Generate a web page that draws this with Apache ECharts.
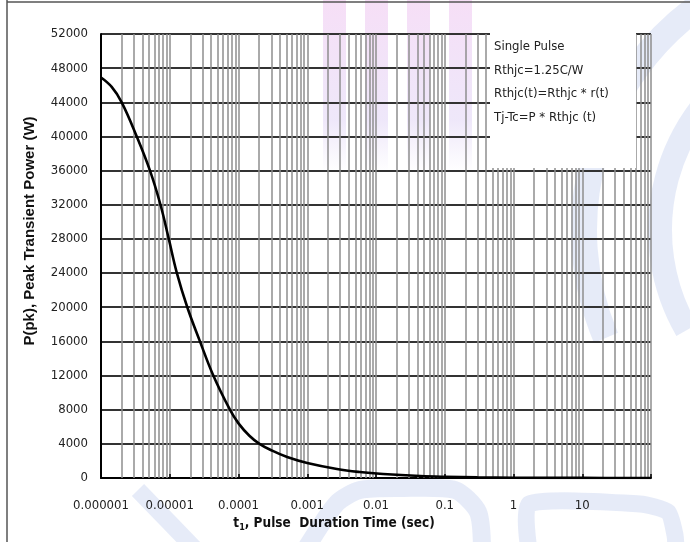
<!DOCTYPE html>
<html>
<head>
<meta charset="utf-8">
<script src="https://cdn.jsdelivr.net/npm/echarts@6/dist/echarts.min.js"></script>
<style>
  html, body { margin: 0; padding: 0; background: #fff; }
  #chart { width: 690px; height: 542px; }
</style>
</head>
<body>
<div id="chart"></div>
<script>
// pulse duration (sec) vs peak transient power (W)
const pulseTime = [1e-6, 1.43e-6, 2e-6, 3.31e-6, 5.16e-6, 7.33e-6, 9.68e-6, 1.27e-5, 1.8e-5, 2.75e-5,
    4.3e-5, 7.5e-5, 1e-4, 1.44e-4, 2.02e-4, 3e-4, 5.1e-4, 1e-3, 2.7e-3,
    5.8e-3, 1.27e-2, 4.4e-2, 0.1, 0.3, 1, 10, 100];
const peakPower = [46900, 45800, 44000, 40000, 36000, 32000, 28000, 24000, 20000, 16000,
    12000, 8000, 6400, 4950, 4000, 3250, 2450, 1750, 1050,
    700, 470, 230, 140, 70, 35, 10, 3];

const xTickLabels = ['0.000001', '0.00001', '0.0001', '0.001', '0.01', '0.1', '1', '10', ''];
const yMin = 0, yMax = 52000, yStep = 4000;
const noteLines = ['Single Pulse', 'Rthjc=1.25C/W', 'Rthjc(t)=Rthjc * r(t)', 'Tj-Tc=P * Rthjc (t)'];

const narrow = "'Liberation Sans Narrow', 'Arial Narrow', 'DejaVu Sans Condensed', sans-serif";

// log minor grid at 2..9 of every decade
const minorX = [];
for (let e = -6; e < 2; e++) {
    for (let k = 2; k <= 9; k++) {
        minorX.push(Number((k * Math.pow(10, e)).toPrecision(3)));
    }
}

const chart = echarts.init(document.getElementById('chart'));

const wm = 'rgba(178,194,234,0.32)';
const graphic = [
    // page frame
    { type: 'line', shape: { x1: 7, y1: 0, x2: 7, y2: 542 }, style: { stroke: '#555', lineWidth: 1.5 }, z: 1 },
    { type: 'line', shape: { x1: 7, y1: 2, x2: 690, y2: 2 }, style: { stroke: '#555', lineWidth: 1.5 }, z: 1 },
    // watermark
    { type: 'arc', shape: { cx: 860, cy: 230, r: 276, startAngle: 157 * Math.PI / 180, endAngle: 235 * Math.PI / 180 },
      style: { stroke: wm, lineWidth: 26, fill: null }, z: 0 },
    { type: 'arc', shape: { cx: 860, cy: 230, r: 200, startAngle: 150 * Math.PI / 180, endAngle: 240 * Math.PI / 180 },
      style: { stroke: wm, lineWidth: 24, fill: null }, z: 0 },
    { type: 'line', shape: { x1: 138, y1: 490, x2: 196, y2: 550 }, style: { stroke: wm, lineWidth: 17 }, z: 0 },
    { type: 'polyline', shape: { points: [[305, 550], [337, 503], [360, 490], [400, 488], [455, 490], [478, 512], [482, 550]], smooth: 0.25 },
      style: { stroke: wm, lineWidth: 18, fill: null }, z: 0 },
    { type: 'polyline', shape: { points: [[529, 550], [529, 504], [640, 504], [668, 512], [675, 535], [676, 550]], smooth: 0.2 },
      style: { stroke: wm, lineWidth: 17, fill: null }, z: 0 }
];
[323, 365, 407, 449].forEach(x => {
    graphic.push({
        type: 'rect', shape: { x: x, y: 0, width: 23, height: 172 }, z: 0,
        style: {
            fill: new echarts.graphic.LinearGradient(0, 0, 0, 1, [
                { offset: 0, color: 'rgba(238,190,238,0.5)' },
                { offset: 0.7, color: 'rgba(214,196,242,0.4)' },
                { offset: 1, color: 'rgba(214,200,242,0)' }
            ])
        }
    });
});
// note box over the upper right of the plot
graphic.push({ type: 'rect', shape: { x: 490, y: 31, width: 146, height: 137 }, style: { fill: '#fff' }, z: 50 });
noteLines.forEach((t, i) => {
    graphic.push({
        type: 'text', x: 494, y: 47 + i * 23.5, z: 51,
        style: { text: t, fill: '#222', font: "13px " + narrow, textVerticalAlign: 'middle' }
    });
});

chart.setOption({
    animation: false,
    backgroundColor: '#fff',
    grid: { left: 101, right: 39, top: 34, bottom: 64 },
    graphic: graphic,
    xAxis: {
        type: 'log',
        logBase: 10,
        min: 1e-6,
        max: 100,
        name: '{a|t}{s|1}{a|, Pulse  Duration Time (sec)}',
        nameLocation: 'middle',
        nameGap: 36,
        nameTextStyle: {
            padding: [0, 84, 0, 0],
            rich: {
                a: { fontFamily: narrow, fontWeight: 'bold', fontSize: 13.5, color: '#111' },
                s: { fontFamily: narrow, fontWeight: 'bold', fontSize: 9, color: '#111', padding: [7, 0, 0, 0] }
            }
        },
        axisLine: { lineStyle: { color: '#000', width: 2 } },
        axisTick: { show: true, inside: true, length: 4, lineStyle: { color: '#000', width: 1.5 } },
        axisLabel: {
            margin: 21,
            fontFamily: narrow,
            fontSize: 13,
            color: '#222',
            formatter: v => xTickLabels[Math.round(Math.log10(v)) + 6] || ''
        },
        splitLine: { show: true, lineStyle: { color: '#8e8e8e', width: 1.5 } }
    },
    yAxis: {
        type: 'value',
        min: yMin,
        max: yMax,
        interval: yStep,
        name: 'P(pk), Peak Transient Power (W)',
        nameLocation: 'middle',
        nameGap: 64,
        nameTextStyle: {
            fontFamily: "'Liberation Sans', Arial, sans-serif",
            fontWeight: 'bold',
            fontSize: 15,
            color: '#111',
            padding: [0, 0, 0, 50]
        },
        axisLine: { show: true, lineStyle: { color: '#000', width: 2 } },
        axisTick: { show: false },
        axisLabel: {
            margin: 13,
            fontFamily: narrow,
            fontSize: 13,
            color: '#222',
            formatter: v => String(v)
        },
        splitLine: { show: true, lineStyle: { color: '#333', width: 2 } }
    },
    series: [
        {
            name: 'grid',
            type: 'line',
            data: [],
            silent: true,
            z: 1,
            markLine: {
                silent: true,
                precision: 12,
                symbol: ['none', 'none'],
                label: { show: false },
                lineStyle: { type: 'solid', color: '#8e8e8e', width: 1.5 },
                data: minorX.map(v => ({ xAxis: v }))
            }
        },
        {
            name: 'P(pk)',
            type: 'line',
            data: pulseTime.map((t, i) => [t, peakPower[i]]),
            smooth: 0.4,
            showSymbol: false,
            z: 5,
            lineStyle: { color: '#000', width: 2.6 }
        }
    ]
});
</script>
</body>
</html>
